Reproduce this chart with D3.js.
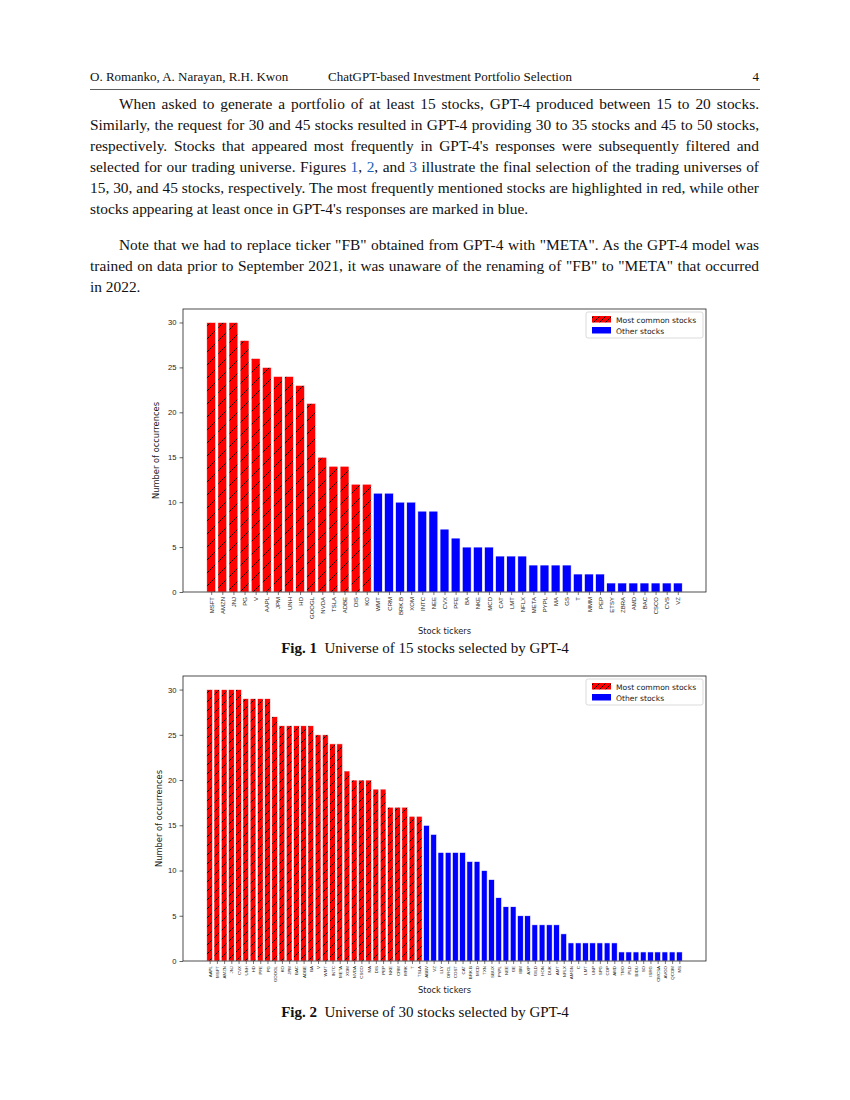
<!DOCTYPE html>
<html>
<head>
<meta charset="utf-8">
<script src="https://cdn.jsdelivr.net/npm/d3@7"></script>
<style>
  body { margin:0; background:#fff; }
  #page { position:relative; width:850px; height:1100px; font-family:"Liberation Serif","Times New Roman",serif; color:#111; }
  .para { position:absolute; left:90px; width:669px; font-size:15.4px; line-height:21px; text-align:justify; text-indent:29px; }
  .lnk { color:#1a5fb4; }
  svg { position:absolute; left:0; top:0; }
</style>
</head>
<body>
<div id="page">
  <div class="para" style="top:93px">When asked to generate a portfolio of at least 15 stocks, GPT-4 produced between 15 to 20 stocks. Similarly, the request for 30 and 45 stocks resulted in GPT-4 providing 30 to 35 stocks and 45 to 50 stocks, respectively. Stocks that appeared most frequently in GPT-4's responses were subsequently filtered and selected for our trading universe. Figures <span class="lnk">1</span>, <span class="lnk">2</span>, and <span class="lnk">3</span> illustrate the final selection of the trading universes of 15, 30, and 45 stocks, respectively. The most frequently mentioned stocks are highlighted in red, while other stocks appearing at least once in GPT-4's responses are marked in blue.</div>
  <div class="para" style="top:234px">Note that we had to replace ticker "FB" obtained from GPT-4 with "META". As the GPT-4 model was trained on data prior to September 2021, it was unaware of the renaming of "FB" to "META" that occurred in 2022.</div>
</div>
<script>
// figure 1 : 15 stock universe
var tickers15 = ["MSFT","AMZN","JNJ","PG","V","AAPL","JPM","UNH","HD","GOOGL","NVDA","TSLA","ADBE","DIS","KO",
  "WMT","CRM","BRK.B","XOM","INTC","NEE","CVX","PFE","BA","NKE","MCD","CAT","LMT","NFLX","META","PYPL","MA","GS",
  "T","MMM","PEP","ETSY","ZBRA","AMD","BAC","CSCO","CVS","VZ"];
var counts15 = [30,30,30,28,26,25,24,24,23,21,15,14,14,12,12,
  11,11,10,10,9,9,7,6,5,5,5,4,4,4,3,3,3,3,2,2,2,1,1,1,1,1,1,1];
var common15 = 15;

// figure 2 : 30 stock universe
var tickers30 = ["AAPL","MSFT","AMZN","JNJ","CVX","UNH","HD","PFE","PG","GOOGL","KO","JPM","BAC","ADBE","BA","V",
  "WMT","INTC","META","XOM","NVDA","CSCO","MA","DIS","PEP","NKE","CRM","MRK","T","TSLA",
  "ABBV","VZ","LLY","ORCL","COST","CAT","BRK.B","MCD","TXN","SBUX","PYPL","NEE","GE","IBM","AXP","GILD","HON","DUK",
  "AMT","NFLX","AMGN","C","LMT","UNP","SPG","COP","AMD","TMO","PLD","BIDU","SO","ISRG","CMCSA","AVGO","QCOM","MS"];
var counts30 = [30,30,30,30,30,29,29,29,29,27,26,26,26,26,26,25,25,24,24,21,20,20,20,19,19,17,17,17,16,16,
  15,14,12,12,12,12,11,11,10,9,7,6,6,5,5,4,4,4,4,3,2,2,2,2,2,2,2,1,1,1,1,1,1,1,1,1];
var common30 = 30;

var yTicks = [0,5,10,15,20,25,30];
var legendLabels = ["Most common stocks","Other stocks"];

var svg = d3.select("#page").append("svg").attr("width",850).attr("height",1100);
var defs = svg.append("defs");

function hatch(id, s) {
  var p = defs.append("pattern").attr("id",id).attr("patternUnits","userSpaceOnUse")
    .attr("width",s).attr("height",s);
  p.append("rect").attr("width",s).attr("height",s).attr("fill","#ff0000");
  p.append("path").attr("d","M0," + s + "L" + s + ",0M" + (-s/2) + "," + (s/2) + "L" + (s/2) + "," + (-s/2) + "M" + (s/2) + "," + (s*1.5) + "L" + (s*1.5) + "," + (s/2))
    .attr("stroke","#000").attr("stroke-width",0.9);
}
hatch("h1", 13);
hatch("h2", 9);
hatch("hl", 6);

// page header
var hdr = svg.append("g").attr("font-family","Liberation Serif, Times New Roman, serif").attr("font-size",13).attr("fill","#111");
hdr.append("text").attr("x",90).attr("y",81).text("O. Romanko, A. Narayan, R.H. Kwon");
hdr.append("text").attr("x",328).attr("y",81).text("ChatGPT-based Investment Portfolio Selection");
hdr.append("text").attr("x",759).attr("y",81).attr("text-anchor","end").text("4");
svg.append("line").attr("x1",90).attr("x2",760).attr("y1",89.5).attr("y2",89.5).attr("stroke","#333").attr("stroke-width",0.8);

function chart(cfg) {
  var n = cfg.tickers.length;
  var m = 0.05 * (n - 0.2);
  var x = d3.scaleLinear().domain([-0.4 - m, n - 0.6 + m]).range([cfg.left, cfg.right]);
  var y = d3.scaleLinear().domain([0, 31.5]).range([cfg.bottom, cfg.top]);
  var g = svg.append("g").attr("font-family","DejaVu Sans, sans-serif");
  var bw = x(0.8) - x(0);

  g.selectAll("rect.bar").data(cfg.counts).enter().append("rect")
    .attr("class","bar")
    .attr("x", function(d,i){ return x(i - 0.4); })
    .attr("y", function(d){ return y(d); })
    .attr("width", bw)
    .attr("height", function(d){ return y(0) - y(d); })
    .attr("fill", function(d,i){ return i < cfg.common ? "url(#" + cfg.pat + ")" : "#0000ff"; })
    .attr("stroke","#fff").attr("stroke-width",0.6);

  var yAxis = d3.axisLeft(y).tickValues(yTicks).tickSize(3.5).tickPadding(3);
  var ya = g.append("g").attr("transform","translate(" + cfg.left + ",0)").call(yAxis);
  ya.select(".domain").remove();
  ya.selectAll("text").attr("font-size",7.6).attr("fill","#222");
  ya.selectAll("line").attr("stroke","#222").attr("stroke-width",0.7);

  var xAxis = d3.axisBottom(x).tickValues(d3.range(n)).tickFormat(function(i){ return cfg.tickers[i]; }).tickSize(3).tickPadding(2);
  var xa = g.append("g").attr("transform","translate(0," + cfg.bottom + ")").call(xAxis);
  xa.select(".domain").remove();
  xa.selectAll("line").attr("stroke","#222").attr("stroke-width",0.6);
  xa.selectAll("text").attr("font-size",cfg.xfs).attr("fill","#222")
    .attr("text-anchor","end").attr("dy","0.35em")
    .attr("transform","translate(0,5) rotate(-90)").attr("x",0).attr("y",0);

  g.append("rect").attr("x",cfg.left).attr("y",cfg.top).attr("width",cfg.right-cfg.left).attr("height",cfg.bottom-cfg.top)
    .attr("fill","none").attr("stroke","#222").attr("stroke-width",0.8);

  g.append("text").attr("transform","translate(" + cfg.ylx + "," + ((cfg.top+cfg.bottom)/2) + ") rotate(-90)")
    .attr("text-anchor","middle").attr("font-size",8.3).attr("fill","#222").text("Number of occurrences");
  g.append("text").attr("x",(cfg.left+cfg.right)/2).attr("y",cfg.xly).attr("text-anchor","middle")
    .attr("font-size",8.3).attr("fill","#222").text("Stock tickers");

  // legend
  var lg = g.append("g").attr("transform","translate(" + (cfg.right - 120) + "," + (cfg.top + 3) + ")");
  lg.append("rect").attr("width",117).attr("height",26).attr("rx",2).attr("fill","#fff").attr("stroke","#ccc").attr("stroke-width",0.7);
  lg.selectAll("rect.key").data(legendLabels).enter().append("rect").attr("class","key")
    .attr("x",6).attr("y",function(d,i){ return 4 + i*11; }).attr("width",19).attr("height",6.5)
    .attr("fill",function(d,i){ return i === 0 ? "url(#hl)" : "#0000ff"; });
  lg.selectAll("text").data(legendLabels).enter().append("text")
    .attr("x",30).attr("y",function(d,i){ return 10.5 + i*11; })
    .attr("font-size",7.6).attr("fill","#222").text(function(d){ return d; });

  var cap = svg.append("text").attr("x",425).attr("y",cfg.capy).attr("text-anchor","middle")
    .attr("font-family","Liberation Serif, Times New Roman, serif").attr("font-size",15).attr("fill","#111");
  cap.append("tspan").attr("font-weight","bold").text(cfg.fig);
  cap.append("tspan").text("\u2002" + cfg.caption);
}

chart({tickers:tickers15, counts:counts15, common:common15, pat:"h1",
  left:183, right:706, top:309, bottom:592, xfs:6, ylx:159, xly:634, capy:653,
  fig:"Fig. 1", caption:"Universe of 15 stocks selected by GPT-4"});
chart({tickers:tickers30, counts:counts30, common:common30, pat:"h2",
  left:183, right:706, top:676, bottom:961, xfs:4.4, ylx:162, xly:993, capy:1017,
  fig:"Fig. 2", caption:"Universe of 30 stocks selected by GPT-4"});
</script>
</body>
</html>
